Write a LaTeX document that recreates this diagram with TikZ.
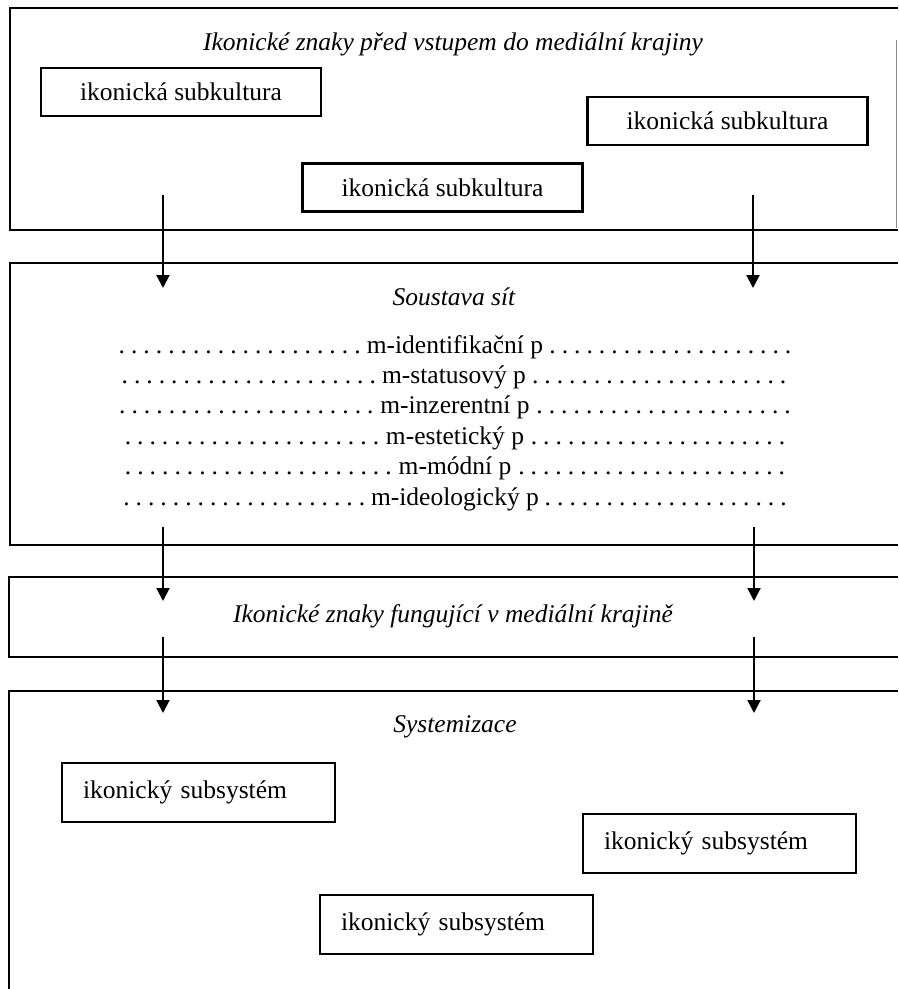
\documentclass[tikz,border=0pt]{standalone}
\usepackage{fontspec}
\setmainfont{Liberation Serif}
\usetikzlibrary{arrows.meta}
\newcommand\dotlead{\cleaders\hbox to 12.4pt{\hss.\hss}\hfill}
\newcommand\bigfont{\fontsize{25.5}{30}\selectfont}
\begin{document}
\begin{tikzpicture}[x=1pt,y=-1pt,
  panel/.style={line width=2pt},
  faint/.style={line width=1pt,draw=black!45},
  subbox/.style={draw,line width=2.2pt,minimum width=280pt,minimum height=48pt,inner sep=0pt,font=\bigfont},
  sysbox/.style={draw,line width=2.2pt,text width=231pt,inner xsep=21pt,inner ysep=0pt,minimum height=59pt,align=left,font=\bigfont},
  ptitle/.style={anchor=base,inner sep=0pt,font=\bigfont\itshape},
  dotrow/.style={anchor=base,inner sep=0pt,font=\bigfont},
  flow/.style={line width=2pt,-{Triangle[width=13pt,length=13pt]}}]
\useasboundingbox (0,0) rectangle (898,989);
% panels
\draw[panel] (898,8) -- (10,8) -- (10,230) -- (898,230);
\draw[faint] (896.5,40) -- (896.5,228);
\draw[panel] (898,263) -- (10,263) -- (10,545) -- (898,545);
\draw[panel] (898,577) -- (9,577) -- (9,657) -- (898,657);
\draw[panel] (898,691) -- (9,691) -- (9,989);
% panel 1
\node[ptitle] (t1) at (453,50) {Ikonické znaky před vstupem do mediální krajiny};
\node[subbox] (ka) at (181,92) {ikonická subkultura};
\node[subbox] (kb) at (727.5,121) {ikonická subkultura};
\node[subbox] (kc) at (442.5,187.5) {ikonická subkultura};
% panel 2
\node[ptitle] (t2) at (454,305) {Soustava sít};
\node[dotrow] (r1) at (455,353) {\makebox[685pt]{\dotlead m-identifikační p\dotlead}};
\node[dotrow] (r2) at (454,383.4) {\makebox[677pt]{\dotlead m-statusový p\dotlead}};
\node[dotrow] (r3) at (455,413.8) {\makebox[685pt]{\dotlead m-inzerentní p\dotlead}};
\node[dotrow] (r4) at (455,444.2) {\makebox[674pt]{\dotlead m-estetický p\dotlead}};
\node[dotrow] (r5) at (455,474.6) {\makebox[674pt]{\dotlead m-módní p\dotlead}};
\node[dotrow] (r6) at (455,505) {\makebox[675pt]{\dotlead m-ideologický p\dotlead}};
% panel 3
\node[ptitle] (t3) at (453,622) {Ikonické znaky fungující v mediální krajině};
% panel 4
\node[ptitle] (t4) at (455,732) {Systemizace};
\node[sysbox] (sa) at (198.5,792.5) {ikonický subsystém};
\node[sysbox] (sb) at (719.5,843.5) {ikonický subsystém};
\node[sysbox] (sc) at (456.5,924.5) {ikonický subsystém};
% arrows
\coordinate (a1s) at (163,195); \coordinate (a1e) at (163,288);
\coordinate (b1s) at (753,195); \coordinate (b1e) at (753,288);
\coordinate (a2s) at (163,527); \coordinate (a2e) at (163,601);
\coordinate (b2s) at (754,527); \coordinate (b2e) at (754,601);
\coordinate (a3s) at (163,637); \coordinate (a3e) at (163,713);
\coordinate (b3s) at (754,637); \coordinate (b3e) at (754,713);
\draw[flow] (a1s) -- (a1e);
\draw[flow] (b1s) -- (b1e);
\draw[flow] (a2s) -- (a2e);
\draw[flow] (b2s) -- (b2e);
\draw[flow] (a3s) -- (a3e);
\draw[flow] (b3s) -- (b3e);
\end{tikzpicture}
\end{document}
